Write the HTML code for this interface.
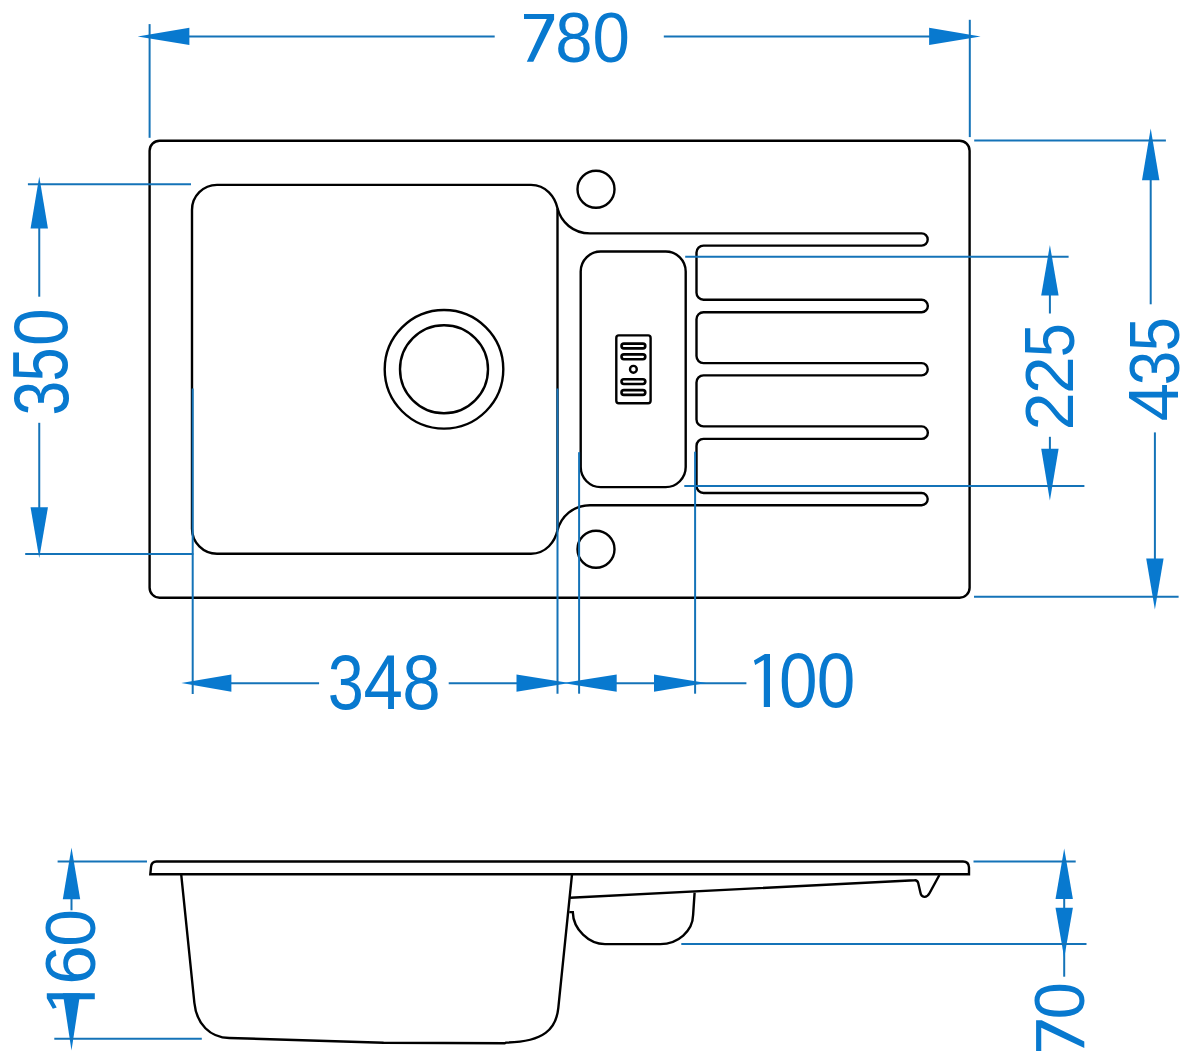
<!DOCTYPE html>
<html><head><meta charset="utf-8"><style>
html,body{margin:0;padding:0;background:#fff;}
svg{display:block;}
text{font-family:"Liberation Sans",sans-serif;}
</style></head><body>
<svg width="1197" height="1055" viewBox="0 0 1197 1055">
<rect x="149.6" y="140.7" width="820" height="457" rx="10" fill="none" stroke="#000" stroke-width="2.4"/>
<path d="M557.5,208.3 C555,197 546,184.9 531,184.9 L217.0,184.9 A25,25 0 0 0 192.0,209.9 L192.0,528.7 A25,25 0 0 0 217.0,553.7 L531,553.7 C546,553.7 555,541.6 557.5,530.3" fill="none" stroke="#000" stroke-width="2.4"/>
<line x1="557.5" y1="208.3" x2="557.5" y2="530.3" stroke="#000" stroke-width="2.4"/>
<path d="M557.5,208.3 C561,222 573,233.4 590,233.4 L921.6,233.4 A6.099999999999994,6.099999999999994 0 0 1 921.6,245.6 L703.5,245.6 A7,7 0 0 0 696.5,252.6 L696.5,292.7 A7,7 0 0 0 703.5,299.7 L921.6,299.7 A6.25,6.25 0 0 1 921.6,312.2 L703.5,312.2 A7,7 0 0 0 696.5,319.2 L696.5,356.1 A7,7 0 0 0 703.5,363.1 L921.6,363.1 A6.149999999999977,6.149999999999977 0 0 1 921.6,375.4 L703.5,375.4 A7,7 0 0 0 696.5,382.4 L696.5,419.40000000000003 A7,7 0 0 0 703.5,426.40000000000003 L921.6,426.40000000000003 A6.25,6.25 0 0 1 921.6,438.90000000000003 L703.5,438.90000000000003 A7,7 0 0 0 696.5,445.90000000000003 L696.5,486.0 A7,7 0 0 0 703.5,493.0 L921.6,493.0 A6.100000000000023,6.100000000000023 0 0 1 921.6,505.20000000000005 L590,505.20000000000005 C573,505.20000000000005 561,516.6 557.5,530.3" fill="none" stroke="#000" stroke-width="2.4"/>
<circle cx="596" cy="189.2" r="18.5" fill="none" stroke="#000" stroke-width="2.4"/>
<circle cx="596" cy="549.3" r="18.5" fill="none" stroke="#000" stroke-width="2.4"/>
<circle cx="444" cy="369.3" r="59.3" fill="none" stroke="#000" stroke-width="2.4"/>
<circle cx="444" cy="369.3" r="44" fill="none" stroke="#000" stroke-width="2.4"/>
<rect x="580.7" y="251.5" width="105" height="235.60000000000002" rx="20" fill="none" stroke="#000" stroke-width="2.4"/>
<rect x="616.3" y="335.4" width="34.3" height="67.9" rx="2.5" fill="none" stroke="#000" stroke-width="2.4"/>
<rect x="621.5" y="343.6" width="23.8" height="4.8" rx="2.4" stroke="#000" fill="none" stroke-width="2.6"/>
<rect x="621.5" y="354.40000000000003" width="23.8" height="4.8" rx="2.4" stroke="#000" fill="none" stroke-width="2.6"/>
<rect x="621.5" y="379.20000000000005" width="23.8" height="4.8" rx="2.4" stroke="#000" fill="none" stroke-width="2.6"/>
<rect x="621.5" y="390.1" width="23.8" height="4.8" rx="2.4" stroke="#000" fill="none" stroke-width="2.6"/>
<circle cx="633.4" cy="369.3" r="3.4" fill="none" stroke="#000" stroke-width="2.4"/>
<path d="M150.3,874.3 L151,867 Q151.5,861.5 156.5,861.5 L963,861.5 Q968.8,861.5 969,867.5 L969.0,874.3 Z" fill="none" stroke="#000" stroke-width="2.4"/>
<path d="M181.2,874.3 L194.4,1003 C196.5,1024 210,1037.6 229.3,1038 L383.6,1042.7 L504.6,1043.3 L506,1042.6 C544,1041.84 556.2,1029 558.3,1008 L572,874.3" fill="none" stroke="#000" stroke-width="2.4"/>
<path d="M570.1,897.8 L914.7,880.2 Q917.4,880 918.2,883 L920.4,892.5 C921.4,897.8 926.6,898.6 929.6,893 L939.4,875" fill="none" stroke="#000" stroke-width="2.4"/>
<path d="M569.3,912.1 L572.8,912.1 C573.2,929.5 589,944.1 605,944.1 L660.3,944.1 C678,944.1 692.8,931 693.1,915.1 L694.6,892.6" fill="none" stroke="#000" stroke-width="2.4"/>
<line x1="180" y1="36.4" x2="494.7" y2="36.4" stroke="#1473b8" stroke-width="2.0"/>
<line x1="663.8" y1="36.4" x2="940" y2="36.4" stroke="#1473b8" stroke-width="2.0"/>
<polygon points="137.6,36.4 189.4,27.7 189.4,45.099999999999994" fill="#0879cf"/>
<polygon points="980.6,36.4 929.1,27.7 929.1,45.099999999999994" fill="#0879cf"/>
<line x1="149.6" y1="24.1" x2="149.6" y2="137.8" stroke="#1473b8" stroke-width="2.0"/>
<line x1="969.8" y1="19.8" x2="969.8" y2="137.1" stroke="#1473b8" stroke-width="2.0"/>
<line x1="39.25" y1="220" x2="39.25" y2="296.7" stroke="#1473b8" stroke-width="2.0"/>
<line x1="39.25" y1="422.8" x2="39.25" y2="515" stroke="#1473b8" stroke-width="2.0"/>
<polygon points="39.25,176.4 30.55,228.6 47.95,228.6" fill="#0879cf"/>
<polygon points="39.25,558 30.55,507.3 47.95,507.3" fill="#0879cf"/>
<line x1="27.9" y1="184.3" x2="191" y2="184.3" stroke="#1473b8" stroke-width="2.0"/>
<line x1="25.2" y1="554" x2="193.4" y2="554" stroke="#1473b8" stroke-width="2.0"/>
<line x1="1150.7" y1="172" x2="1150.7" y2="304.3" stroke="#1473b8" stroke-width="2.0"/>
<line x1="1154.9" y1="432.4" x2="1154.9" y2="566" stroke="#1473b8" stroke-width="2.0"/>
<polygon points="1150.7,128.5 1142.0,180.3 1159.4,180.3" fill="#0879cf"/>
<polygon points="1154.9,609.5 1146.2,558.5 1163.6000000000001,558.5" fill="#0879cf"/>
<line x1="974.2" y1="140.5" x2="1165.9" y2="140.5" stroke="#1473b8" stroke-width="2.0"/>
<line x1="974" y1="596.8" x2="1178.6" y2="596.8" stroke="#1473b8" stroke-width="2.0"/>
<line x1="1049.9" y1="287" x2="1049.9" y2="313.5" stroke="#1473b8" stroke-width="2.0"/>
<line x1="1049.9" y1="436.8" x2="1049.9" y2="457" stroke="#1473b8" stroke-width="2.0"/>
<polygon points="1049.9,245.1 1041.2,295.4 1058.6000000000001,295.4" fill="#0879cf"/>
<polygon points="1049.9,500.4 1041.2,448.8 1058.6000000000001,448.8" fill="#0879cf"/>
<line x1="685.2" y1="256.65" x2="1068.6" y2="256.65" stroke="#1473b8" stroke-width="2.0"/>
<line x1="684.3" y1="485.9" x2="1084.4" y2="485.9" stroke="#1473b8" stroke-width="2.0"/>
<line x1="222" y1="683.2" x2="319.1" y2="683.2" stroke="#1473b8" stroke-width="2.0"/>
<line x1="448.7" y1="683.2" x2="525" y2="683.2" stroke="#1473b8" stroke-width="2.0"/>
<line x1="610" y1="683.2" x2="746.4" y2="683.2" stroke="#1473b8" stroke-width="2.0"/>
<polygon points="181.3,683.1 231.4,674.4 231.4,691.8000000000001" fill="#0879cf"/>
<polygon points="569.5,683.1 516.5,674.4 516.5,691.8000000000001" fill="#0879cf"/>
<polygon points="562.8,683.1 616.7,674.4 616.7,691.8000000000001" fill="#0879cf"/>
<polygon points="706.2,683.1 654,674.4 654,691.8000000000001" fill="#0879cf"/>
<line x1="192.7" y1="388.6" x2="192.7" y2="693.9" stroke="#1473b8" stroke-width="2.0"/>
<line x1="557.5" y1="388.5" x2="557.5" y2="693.7" stroke="#1473b8" stroke-width="2.0"/>
<line x1="579.1" y1="452.2" x2="579.1" y2="693.7" stroke="#1473b8" stroke-width="2.0"/>
<line x1="695.1" y1="451.7" x2="695.1" y2="693.7" stroke="#1473b8" stroke-width="2.0"/>
<line x1="71.5" y1="890" x2="71.5" y2="910.3" stroke="#1473b8" stroke-width="2.0"/>
<polygon points="71.5,847.5 62.8,899.2 80.2,899.2" fill="#0879cf"/>
<polygon points="71.5,1050.4 62.8,993.3 80.2,993.3" fill="#0879cf"/>
<line x1="57.6" y1="861.4" x2="147" y2="861.4" stroke="#1473b8" stroke-width="2.0"/>
<line x1="54.3" y1="1038.7" x2="201.8" y2="1038.7" stroke="#1473b8" stroke-width="2.0"/>
<line x1="1064.2" y1="890" x2="1064.2" y2="976.7" stroke="#1473b8" stroke-width="2.0"/>
<polygon points="1064.2,848.5 1055.5,899 1072.9,899" fill="#0879cf"/>
<polygon points="1064.2,958.1 1055.5,907.8 1072.9,907.8" fill="#0879cf"/>
<line x1="973.5" y1="861.5" x2="1075.7" y2="861.5" stroke="#1473b8" stroke-width="2.0"/>
<line x1="681.3" y1="944.1" x2="1086.5" y2="944.1" stroke="#1473b8" stroke-width="2.0"/>
<polygon points="524.00,14.00 554.10,14.00 554.10,19.58 533.30,61.70 526.80,61.70 546.79,19.10 524.00,19.10" fill="#0879cf"/>
<text transform="matrix(0.6723,0,0,0.7067,555.24,62.29)" font-size="100" fill="#0879cf">8</text>
<text transform="matrix(0.6723,0,0,0.7067,592.51,62.29)" font-size="100" fill="#0879cf">0</text>
<text transform="matrix(0.6484,0,0,0.7816,327.87,709.22)" font-size="100" fill="#0879cf">3</text>
<text transform="matrix(0.7089,0,0,0.7695,363.50,709.00)" font-size="100" fill="#0879cf">4</text>
<text transform="matrix(0.6915,0,0,0.7746,402.36,709.23)" font-size="100" fill="#0879cf">8</text>
<polygon points="753.90,660.54 764.85,653.90 770.00,653.90 770.00,707.00 763.80,707.00 763.80,659.90 755.19,664.89" fill="#0879cf"/>
<text transform="matrix(0.6932,0,0,0.7788,778.93,707.42)" font-size="100" fill="#0879cf">0</text>
<text transform="matrix(0.6932,0,0,0.7788,816.63,707.42)" font-size="100" fill="#0879cf">0</text>
<text transform="matrix(0,-0.6232,0.7760,0,67.52,415.54)" font-size="100" fill="#0879cf">3</text>
<text transform="matrix(0,-0.6105,0.7699,0,67.13,381.54)" font-size="100" fill="#0879cf">5</text>
<text transform="matrix(0,-0.6785,0.7675,0,66.93,345.91)" font-size="100" fill="#0879cf">0</text>
<text transform="matrix(0,-0.6879,0.6925,0,1073.00,430.54)" font-size="100" fill="#0879cf">2</text>
<text transform="matrix(0,-0.6747,0.6925,0,1073.00,394.07)" font-size="100" fill="#0879cf">2</text>
<text transform="matrix(0,-0.6105,0.7025,0,1073.50,357.24)" font-size="100" fill="#0879cf">5</text>
<text transform="matrix(0,-0.6871,0.6953,0,1178.00,421.35)" font-size="100" fill="#0879cf">4</text>
<text transform="matrix(0,-0.6211,0.6996,0,1178.50,385.13)" font-size="100" fill="#0879cf">3</text>
<text transform="matrix(0,-0.6105,0.7025,0,1178.50,351.14)" font-size="100" fill="#0879cf">5</text>
<polygon points="52.80,1008.80 46.80,998.19 46.80,993.20 94.80,993.20 94.80,999.21 52.22,999.21 56.74,1007.55" fill="#0879cf"/>
<text transform="matrix(0,-0.7114,0.6996,0,95.10,984.76)" font-size="100" fill="#0879cf">6</text>
<text transform="matrix(0,-0.6764,0.6996,0,95.10,946.81)" font-size="100" fill="#0879cf">0</text>
<polygon points="1036.10,1050.90 1036.10,1020.30 1041.74,1020.30 1084.30,1041.44 1084.30,1048.05 1041.26,1027.74 1041.26,1050.90" fill="#0879cf"/>
<text transform="matrix(0,-0.6681,0.6996,0,1084.00,1019.37)" font-size="100" fill="#0879cf">0</text>
</svg>
</body></html>
